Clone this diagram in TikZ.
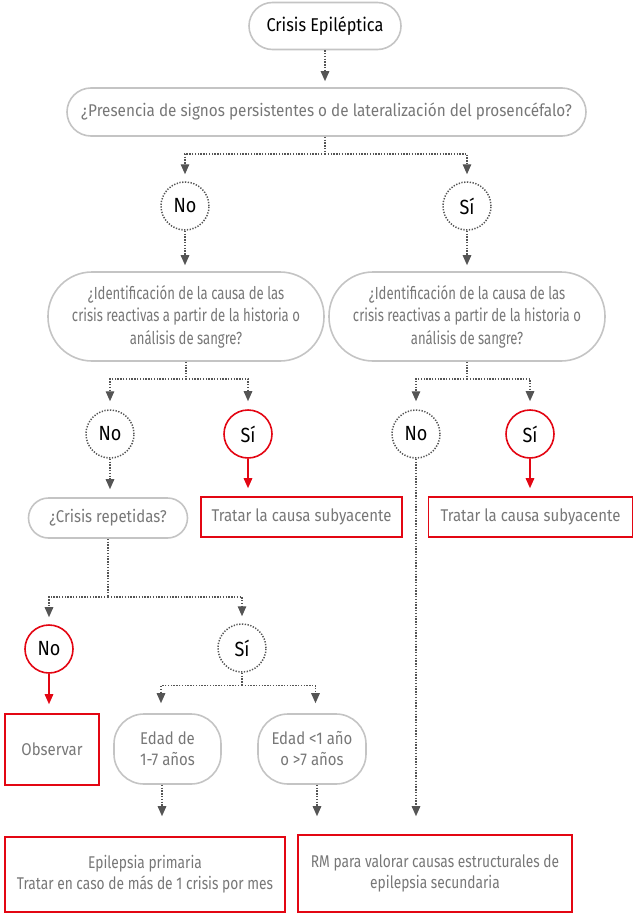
\documentclass[tikz,border=0pt]{standalone}
\usepackage{fontspec}
\setmainfont{Fira Sans}[FakeStretch=0.88]
\newfontfamily\widefont{Fira Sans}[FakeStretch=0.90]
\newfontfamily\qfont{Fira Sans}[FakeStretch=0.75]
\newfontfamily\midfont{Fira Sans}[FakeStretch=0.81]
\usetikzlibrary{arrows.meta,calc}
\definecolor{boxgray}{HTML}{C4C4C4}
\definecolor{txtgray}{HTML}{777777}
\definecolor{linegray}{HTML}{555555}
\definecolor{myred}{HTML}{E30613}
\begin{document}
\begin{tikzpicture}[x=1pt,y=-1pt,
  every node/.style={inner sep=0pt, align=center},
  pill/.style={draw=boxgray, line width=1.6pt, text=txtgray, font=\fontsize{17}{20.5}\selectfont},
  redbox/.style={draw=myred, line width=1.6pt, text=txtgray, font=\fontsize{17}{21}\selectfont},
  dcirc/.style={circle, draw=linegray, line width=1.5pt, dash pattern=on 1.3pt off 1.5pt, minimum size=48pt, text=black, font=\fontsize{20.5}{22}\selectfont},
  rcirc/.style={circle, draw=myred, line width=1.6pt, minimum size=48pt, text=black, font=\fontsize{20.5}{22}\selectfont},
  qbox/.style={pill, minimum width=276pt, minimum height=89pt, rounded corners=44pt, font=\qfont\fontsize{17.5}{22.5}\selectfont},
  dots/.style={draw=linegray, line width=1.4pt, dash pattern=on 1.4pt off 1.4pt},
  darr/.style={dots, -{Triangle[width=8.5pt,length=10pt]}},
  rarr/.style={draw=myred, line width=1.5pt, -{Triangle[width=8.5pt,length=10pt]}}
]
\path[use as bounding box] (0,0) rectangle (634,915);

% nodes
\node[pill, text=black, font=\fontsize{18.5}{22}\selectfont, minimum width=152pt, minimum height=47pt, rounded corners=23.5pt] (title) at (325,26) {Crisis Epiléptica};
\node[pill, font=\widefont\fontsize{17}{20.5}\selectfont, minimum width=519pt, minimum height=48pt, rounded corners=24pt] (Q1) at (326.5,112) {¿Presencia de signos persistentes o de lateralización del prosencéfalo?};
\node[dcirc] (No1) at (185,206) {No};
\node[dcirc] (Si1) at (467,206) {Sí};
\node[qbox] (Q2L) at (186,316.5) {¿Identificación de la causa de las\\crisis reactivas a partir de la historia o\\análisis de sangre?};
\node[qbox] (Q2R) at (467,316.5) {¿Identificación de la causa de las\\crisis reactivas a partir de la historia o\\análisis de sangre?};
\node[dcirc] (No2) at (110,434) {No};
\node[rcirc] (Si2) at (248,434) {Sí};
\node[dcirc] (No3) at (416,434) {No};
\node[rcirc] (Si3) at (530,434) {Sí};
\node[pill, minimum width=159pt, minimum height=40pt, rounded corners=20pt] (CR) at (108,518) {¿Crisis repetidas?};
\node[redbox, minimum width=201pt, minimum height=40pt] (TL) at (301.5,517) {Tratar la causa subyacente};
\node[redbox, minimum width=204pt, minimum height=40pt] (TR) at (530.5,517) {Tratar la causa subyacente};
\node[rcirc] (No4) at (49,649) {No};
\node[dcirc] (Si4) at (242,648) {Sí};
\node[redbox, minimum width=94pt, minimum height=71pt] (Obs) at (52,749.5) {Observar};
\node[pill, font=\fontsize{17}{21}\selectfont, minimum width=107pt, minimum height=70pt, rounded corners=30pt] (E1) at (167.5,749) {Edad de\\1-7 años};
\node[pill, font=\fontsize{17}{21}\selectfont, minimum width=108pt, minimum height=70pt, rounded corners=30pt] (E2) at (312,749) {Edad <1 año\\o >7 años};
\node[redbox, font=\midfont\fontsize{17}{21}\selectfont, minimum width=280pt, minimum height=75pt] (EP) at (145,874.5) {Epilepsia primaria\\Tratar en caso de más de 1 crisis por mes};
\node[redbox, font=\midfont\fontsize{17}{21}\selectfont, minimum width=274pt, minimum height=77pt] (RM) at (435,873.5) {RM para valorar causas estructurales de\\epilepsia secundaria};

% connectors
\draw[darr, shorten >=6pt] (title) -- (title |- Q1.north);
\draw[dots] (title |- Q1.south) -- ++(0,17) coordinate (j1);
\draw[darr, shorten >=7pt] (j1) -| (No1);
\draw[darr, shorten >=7pt] (j1) -| (Si1);
\draw[darr, shorten >=6pt] (No1.south) -- (No1.south |- Q2L.north);
\draw[darr, shorten >=6pt] (Si1.south) -- (Si1.south |- Q2R.north);

\draw[dots] (Q2L.south) -- ++(0,17) coordinate (j2);
\draw[darr, shorten >=8pt] (j2) -| (No2);
\draw[darr, shorten >=8pt] (j2) -| (Si2);
\draw[dots] (Q2R.south) -- ++(0,17) coordinate (j3);
\draw[darr, shorten >=8pt] (j3) -| (No3);
\draw[darr, shorten >=8pt] (j3) -| (Si3);

\draw[darr, shorten >=8pt] (No2.south) -- (No2.south |- CR.north);
\draw[rarr, shorten >=8pt] (Si2.south) -- (Si2.south |- TL.north);
\draw[rarr, shorten >=8pt] (Si3.south) -- (Si3.south |- TR.north);
\draw[darr, shorten >=18pt] (No3.south) -- (No3.south |- RM.north);

\draw[dots] (CR.south) -- ++(0,58) coordinate (j4);
\draw[darr, shorten >=7pt] (j4) -| (No4);
\draw[darr, shorten >=7pt] (j4) -| (Si4);
\draw[rarr, shorten >=9pt] (No4.south) -- (No4.south |- Obs.north);

\draw[dots] (Si4.south) -- ++(0,13) coordinate (j5);
\coordinate (e1t) at ($(E1.north)+(-6.5,0)$);
\coordinate (e2t) at ($(E2.north)+(3.5,0)$);
\coordinate (e1b) at ($(E1.south)+(-5.5,0)$);
\coordinate (e2b) at ($(E2.south)+(5,0)$);
\draw[darr, shorten >=10pt] (j5) -| (e1t);
\draw[darr, shorten >=10pt] (j5) -| (e2t);
\draw[darr, shorten >=20pt] (e1b) -- (e1b |- EP.north);
\draw[darr, shorten >=18pt] (e2b) -- (e2b |- RM.north);
\end{tikzpicture}
\end{document}
